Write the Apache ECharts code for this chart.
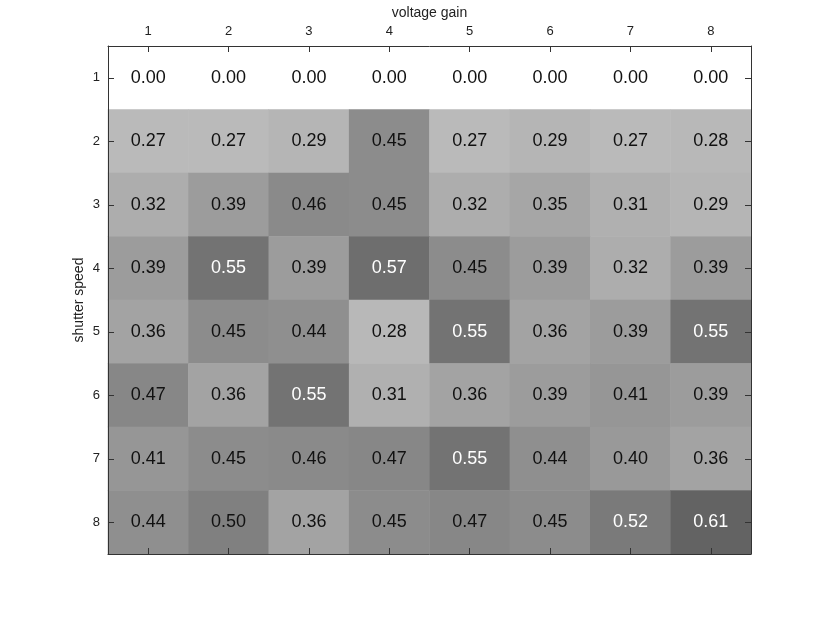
<!DOCTYPE html>
<html>
<head>
<meta charset="utf-8">
<script src="https://cdn.jsdelivr.net/npm/echarts@6/dist/echarts.min.js"></script>
<style>
  html, body { margin: 0; padding: 0; background: #fff; }
  #chart { width: 830px; height: 623px; }
</style>
</head>
<body>
<div id="chart"></div>
<script>
// axis categories
var gainLabels = ['1', '2', '3', '4', '5', '6', '7', '8'];
var speedLabels = ['1', '2', '3', '4', '5', '6', '7', '8'];

// one row per shutter speed
var row1 = [0.00, 0.00, 0.00, 0.00, 0.00, 0.00, 0.00, 0.00];
var row2 = [0.27, 0.27, 0.29, 0.45, 0.27, 0.29, 0.27, 0.28];
var row3 = [0.32, 0.39, 0.46, 0.45, 0.32, 0.35, 0.31, 0.29];
var row4 = [0.39, 0.55, 0.39, 0.57, 0.45, 0.39, 0.32, 0.39];
var row5 = [0.36, 0.45, 0.44, 0.28, 0.55, 0.36, 0.39, 0.55];
var row6 = [0.47, 0.36, 0.55, 0.31, 0.36, 0.39, 0.41, 0.39];
var row7 = [0.41, 0.45, 0.46, 0.47, 0.55, 0.44, 0.40, 0.36];
var row8 = [0.44, 0.50, 0.36, 0.45, 0.47, 0.45, 0.52, 0.61];

var rows = [row1, row2, row3, row4, row5, row6, row7, row8];
var cells = [];
rows.forEach(function (r, yi) {
  r.forEach(function (v, xi) {
    // darker cells get white text
    var item = { value: [xi, yi, v] };
    if (v > 0.5) item.label = { color: '#fff' };
    cells.push(item);
  });
});

var font = 'Liberation Sans';
var chart = echarts.init(document.getElementById('chart'));

var tickStyle = { show: true, inside: true, length: 6, alignWithLabel: true, lineStyle: { color: '#333' } };
var lineStyle = { show: true, onZero: false, lineStyle: { color: '#333', width: 1 } };
var labelStyle = { fontSize: 13, color: '#222', margin: 8, fontFamily: font };
var nameStyle = { fontSize: 14, color: '#222', fontFamily: font };

chart.setOption({
  animation: false,
  textStyle: { fontFamily: font },
  grid: { left: 108, right: 79, top: 46, bottom: 69 },
  visualMap: {
    show: false,
    min: 0,
    max: 1,
    inRange: { color: ['#ffffff', '#000000'] }
  },
  xAxis: [
    {
      type: 'category', position: 'top', data: gainLabels, z: 10,
      name: 'voltage gain', nameLocation: 'middle', nameGap: 26,
      nameTextStyle: nameStyle, axisLabel: labelStyle,
      axisTick: tickStyle, axisLine: lineStyle, splitLine: { show: false }
    },
    {
      type: 'category', position: 'bottom', data: gainLabels, z: 10,
      axisLabel: { show: false },
      axisTick: tickStyle, axisLine: lineStyle, splitLine: { show: false }
    }
  ],
  yAxis: [
    {
      type: 'category', position: 'left', data: speedLabels, inverse: true, z: 10,
      name: 'shutter speed', nameLocation: 'middle', nameGap: 22, nameMoveOverlap: false,
      nameTextStyle: nameStyle, axisLabel: labelStyle,
      axisTick: tickStyle, axisLine: lineStyle, splitLine: { show: false }
    },
    {
      type: 'category', position: 'right', data: speedLabels, inverse: true, z: 10,
      axisLabel: { show: false },
      axisTick: tickStyle, axisLine: lineStyle, splitLine: { show: false }
    }
  ],
  series: [{
    type: 'heatmap',
    xAxisIndex: 0,
    yAxisIndex: 0,
    data: cells,
    label: {
      show: true,
      fontSize: 18,
      fontFamily: font,
      color: '#111',
      formatter: function (p) { return p.value[2].toFixed(2); }
    },
    itemStyle: { borderWidth: 0 },
    emphasis: { disabled: true }
  }]
});
</script>
</body>
</html>
